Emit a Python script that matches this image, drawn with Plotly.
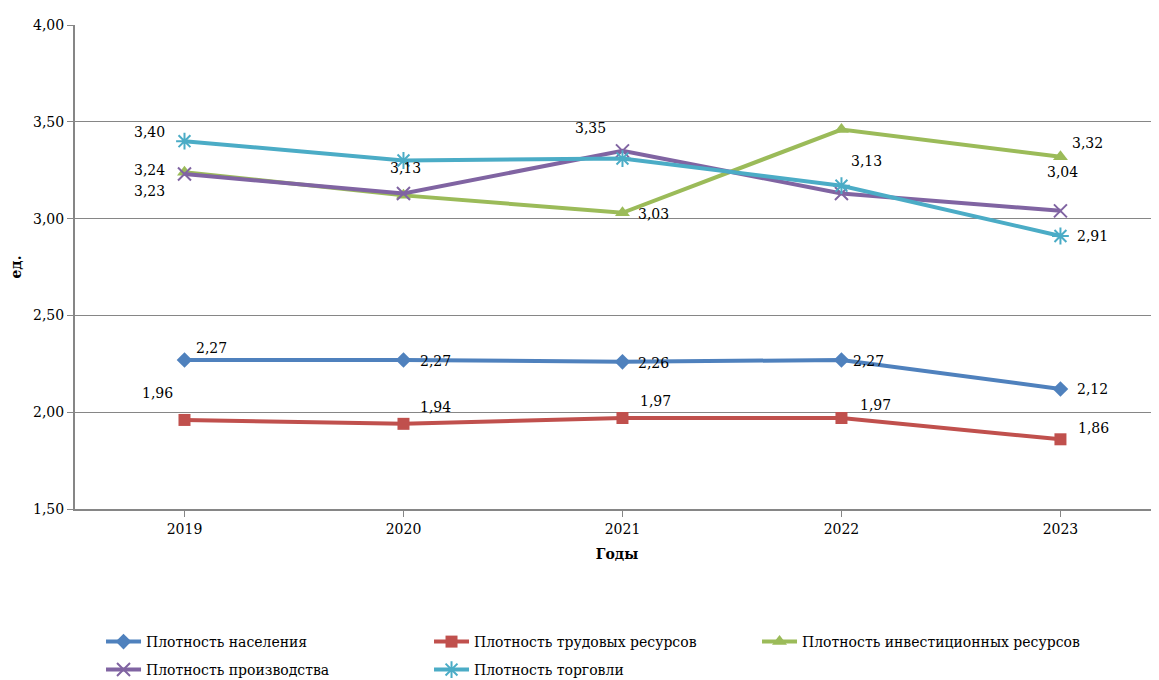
import plotly.graph_objects as go

years = ["2019", "2020", "2021", "2022", "2023"]
series_names = [
    "Плотность населения",
    "Плотность трудовых ресурсов",
    "Плотность инвестиционных ресурсов",
    "Плотность производства",
    "Плотность торговли",
]
naseleniya = [2.27, 2.27, 2.26, 2.27, 2.12]
trudovyh = [1.96, 1.94, 1.97, 1.97, 1.86]
investicii = [3.24, 3.12, 3.03, 3.46, 3.32]
proizvodstvo = [3.23, 3.13, 3.35, 3.13, 3.04]
torgovlya = [3.40, 3.30, 3.31, 3.17, 2.91]
y_ticks = [1.5, 2.0, 2.5, 3.0, 3.5, 4.0]

all_series = [naseleniya, trudovyh, investicii, proizvodstvo, torgovlya]
colors = ["#4F81BD", "#C0504D", "#9BBB59", "#8064A2", "#4BACC6"]
symbols = ["diamond", "square", "triangle-up", "x-thin-open", "asterisk-open"]
msizes = [12, 12, 13, 13, 14]
legend_rows = ["legend", "legend", "legend", "legend2", "legend2"]

# data labels: (series index, year index, xshift, yshift)
labels = [
    (4, 0, -35, 9), (2, 0, -35, 2), (3, 0, -35, -17), (0, 0, 27, 12), (1, 0, -27, 27),
    (3, 1, 2, 25), (0, 1, 32, -1), (1, 1, 32, 17),
    (3, 2, -32, 23), (2, 2, 31, -1), (0, 2, 31, -1), (1, 2, 33, 17),
    (3, 3, 25, 32), (0, 3, 27, -1), (1, 3, 34, 13),
    (2, 4, 27, 14), (3, 4, 2, 39), (4, 4, 32, 0), (0, 4, 32, 0), (1, 4, 33, 11),
]

FONT = "DejaVu Serif"
FS = 14
fig = go.Figure()
for i, (name, vals) in enumerate(zip(series_names, all_series)):
    open_sym = symbols[i].endswith("open")
    fig.add_trace(go.Scatter(
        x=list(range(len(years))), y=vals, name=name, mode="lines+markers",
        legend=legend_rows[i],
        line=dict(color=colors[i], width=4),
        marker=dict(symbol=symbols[i], size=msizes[i], color=colors[i],
                    line=dict(color=colors[i], width=2 if open_sym else 0)),
    ))

for si, yi, dx, dy in labels:
    v = all_series[si][yi]
    fig.add_annotation(x=yi, y=v, xref="x", yref="y", showarrow=False,
                       text=f"{v:.2f}".replace(".", ","), xshift=dx, yshift=dy,
                       font=dict(family=FONT, size=FS, color="#000000"))

leg_common = dict(orientation="h", xanchor="left", yanchor="middle",
                  entrywidth=278, entrywidthmode="pixels",
                  font=dict(family=FONT, size=FS, color="#000000"),
                  itemwidth=35, bgcolor="rgba(0,0,0,0)")

fig.update_layout(
    width=1151, height=672,
    margin=dict(l=67, r=0, t=17, b=171, autoexpand=False),
    paper_bgcolor="white", plot_bgcolor="white",
    font=dict(family=FONT, size=FS, color="#000000"),
    separators=", ",
    showlegend=True,
    legend=dict(x=0.024, y=-0.2748, **leg_common),
    legend2=dict(x=0.024, y=-0.3326, **leg_common),
    xaxis=dict(
        tickmode="array", tickvals=list(range(len(years))), ticktext=years,
        range=[-0.5, 4.45], showgrid=False, zeroline=False,
        showline=True, linecolor="#868686", linewidth=2,
        ticks="outside", tickson="boundaries", ticklen=6, tickcolor="#868686",
        title=dict(text="<b>Годы</b>", font=dict(family=FONT, size=FS), standoff=13),
        tickfont=dict(family=FONT, size=FS),
    ),
    yaxis=dict(
        range=[1.5, 4.0], tickvals=y_ticks, tickformat=".2f",
        showgrid=True, gridcolor="#868686", gridwidth=1, zeroline=False,
        showline=True, linecolor="#868686", linewidth=2,
        ticks="outside", ticklen=6, tickcolor="#868686",
        title=dict(text="<b>ед.</b>", font=dict(family=FONT, size=FS), standoff=18),
        tickfont=dict(family=FONT, size=FS),
    ),
)

fig.write_html("out.html")
